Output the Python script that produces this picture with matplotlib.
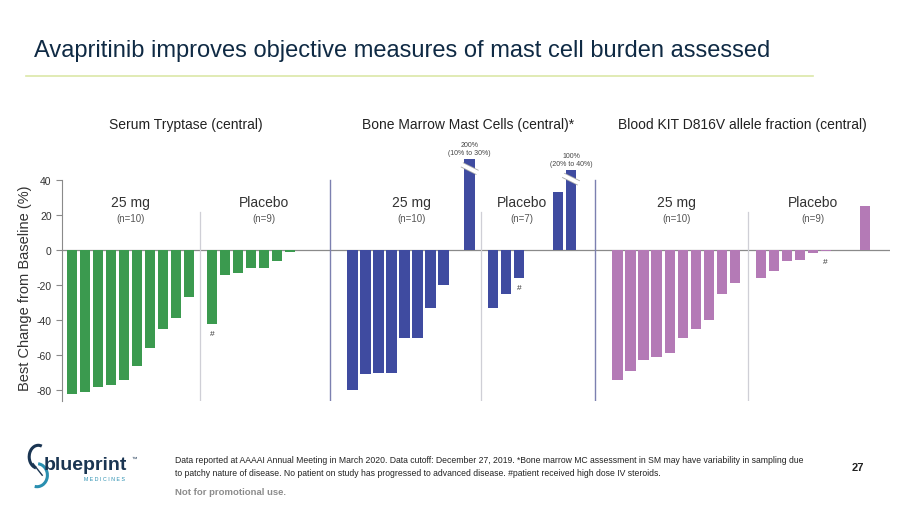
import numpy as np
import matplotlib.pyplot as plt
from matplotlib.patches import Arc

plt.rcParams['font.family'] = ['Liberation Sans', 'DejaVu Sans']
plt.rcParams['axes.unicode_minus'] = False

# ---- data ----
titles = ["Serum Tryptase (central)",
          "Bone Marrow Mast Cells (central)*",
          "Blood KIT D816V allele fraction (central)"]
colors = ["#3b9a4f", "#3f4ba0", "#b47ab6"]

tryptase_25mg = [-82, -81, -78, -77, -74, -66, -56, -45, -39, -27]
tryptase_pbo = [-42, -14, -13, -10, -10, -6, -1, 0, 0]
marrow_25mg = [-80, -71, -70, -70, -50, -50, -33, -20, 0, 52]
marrow_pbo = [-33, -25, -16, 0, 0, 33, 46]
kit_25mg = [-74, -69, -63, -61, -59, -50, -45, -40, -25, -19]
kit_pbo = [-16, -12, -6.5, -5.7, -1.5, -0.8, 0, 0, 25]

n_labels = [("(n=10)", "(n=9)"), ("(n=10)", "(n=7)"), ("(n=10)", "(n=9)")]
hash_pbo = [0, 2, 5]   # placebo bar with '#' (high dose IV steroids)
# truncated bars: (panel, group, index, label)
broken = [(1, 0, 9, "200%\n(10% to 30%)"), (1, 1, 6, "100%\n(20% to 40%)")]

treat = [tryptase_25mg, marrow_25mg, kit_25mg]
pbo = [tryptase_pbo, marrow_pbo, kit_pbo]

# layout in bar slots
lead = [0.77, 1.73, 1.73]
gap = [1.75, 1.79, 2.0]
tail = [1.1, 1.86, 1.94]
label_shift = [0, -0.8, 0]   # placebo group label offset
title_shift = [-0.77, 0.45, 0]
x_left = -0.77

fig = plt.figure(figsize=(9, 5.06), dpi=100)
fig.patch.set_facecolor("white")

fig.text(34 / 900, 1 - 57 / 506, "Avapritinib improves objective measures of mast cell burden assessed",
         fontsize=17, color="#0f2a44", va="baseline")
fig.add_artist(plt.Line2D([26 / 900, 813 / 900], [1 - 77 / 506] * 2, color="#dbe8a8", lw=1.2))

ax = fig.add_axes([62 / 900, 1 - 401.5 / 506, 828 / 900, 255.5 / 506])
ax.set_xlim(x_left, 62.9)
ax.set_ylim(-86, 60)
for s in ["top", "right", "bottom"]:
    ax.spines[s].set_visible(False)
ax.spines["left"].set_bounds(-86, 40)
ax.spines["left"].set_color("#8a8a8a")
ax.set_xticks([])
ax.set_yticks([40, 20, 0, -20, -40, -60, -80])
ax.tick_params(axis="y", colors="#8a8a8a", labelcolor="#333333", labelsize=7.5, length=4, width=0.8)
ax.set_ylabel("Best Change from Baseline (%)", fontsize=10.5, color="#333333")
ax.yaxis.set_label_coords(-0.036, 0.444)
ax.axhline(0, color="#8a8a8a", lw=0.9, zorder=1)

cursor = x_left
for p in range(3):
    xt = cursor + lead[p] + np.arange(len(treat[p]))
    xp = xt[-1] + gap[p] + np.arange(len(pbo[p]))
    end = xp[-1] + tail[p]
    xs = [xt, xp]
    vals = [treat[p], pbo[p]]
    for g in range(2):
        ax.bar(xs[g], vals[g], width=0.8, color=colors[p], zorder=2, clip_on=False)
        lx = xs[g].mean() + (label_shift[p] if g == 1 else 0)
        ax.text(lx, 27.4, ["25 mg", "Placebo"][g], ha="center", va="center",
                fontsize=10, color="#333333")
        ax.text(lx, 18.3, n_labels[p][g], ha="center", va="center",
                fontsize=7, color="#555555")
    div = (xt[-1] + xp[0]) / 2
    ax.plot([div, div], [22, -86], color="#cfcfd6", lw=0.9, zorder=1)
    if p < 2:
        ax.plot([end, end], [40, -86], color="#7c80b0", lw=1.0, zorder=1)
    ax.text((cursor + end) / 2 + title_shift[p], 72, titles[p], ha="center", va="center",
            fontsize=10, color="#222222", clip_on=False)
    h = hash_pbo[p]
    ax.text(xp[h], pbo[p][h] - 5.5, "#", ha="center", va="center", fontsize=6, color="#333333")
    for bp, bg, bi, lab in broken:
        if bp == p:
            bx = xs[bg][bi]
            by = vals[bg][bi]
            yb = by - 5.5
            ax.plot([bx - 0.6, bx + 0.6], [yb + 2.2, yb - 2.2], color="#a8a8a8", lw=4.0,
                    solid_capstyle="butt", zorder=3, clip_on=False)
            ax.plot([bx - 0.65, bx + 0.65], [yb + 2.4, yb - 2.4], color="white", lw=2.8,
                    solid_capstyle="butt", zorder=4, clip_on=False)
            ax.text(bx, by + 1.5, lab, ha="center", va="bottom", fontsize=5,
                    color="#444444", linespacing=1.2, clip_on=False)
    cursor = end

# ---- footer ----
foot = ("Data reported at AAAAI Annual Meeting in March 2020. Data cutoff: December 27, 2019. "
        "*Bone marrow MC assessment in SM may have variability in sampling due\n"
        "to patchy nature of disease. No patient on study has progressed to advanced disease. "
        "#patient received high dose IV steroids.")
fig.text(175 / 900, 1 - 456 / 506, foot, fontsize=6.2, color="#222222", va="top", linespacing=1.55,
         family=["Liberation Sans Narrow", "Liberation Sans"])
fig.text(175 / 900, 1 - 493 / 506, "Not for promotional use.", fontsize=6.8, color="#8c8c8c",
         va="center", fontweight="bold", family=["Liberation Sans Narrow", "Liberation Sans"])
fig.text(858 / 900, 1 - 468 / 506, "27", fontsize=8, fontweight="bold", color="#222222",
         ha="center", va="center")

# logo
fig.text(44 / 900, 1 - 466 / 506, "blueprint", fontsize=14, fontweight="bold", color="#1a3552",
         va="center")
fig.text(131 / 900, 1 - 459 / 506, "™", fontsize=4, color="#1a3552", va="center")
fig.text(84 / 900, 1 - 480 / 506, "M E D I C I N E S", fontsize=3.8, color="#2a8fb0", va="center")
lax = fig.add_axes([24 / 900, 1 - 490 / 506, 26 / 900, 46 / 506])
lax.set_xlim(0, 1)
lax.set_ylim(0, 1)
lax.axis("off")
lax.add_patch(Arc((0.55, 0.7), 0.7, 0.5, theta1=60, theta2=250, color="#1a3552", lw=2.2))
lax.add_patch(Arc((0.5, 0.3), 0.8, 0.5, theta1=250, theta2=80, color="#2a8fb0", lw=2.2))
lax.plot([0.35, 0.7], [0.55, 0.3], color="#1a3552", lw=1)

fig.savefig("out.png", dpi=100)
